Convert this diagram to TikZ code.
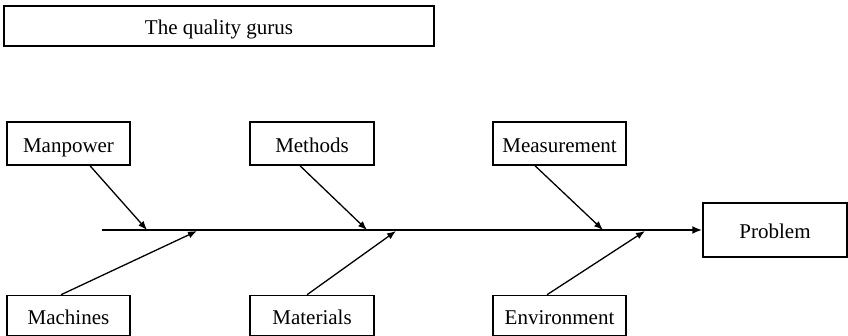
\documentclass[tikz,border=0pt]{standalone}
\usepackage{fontspec}
\setmainfont{Liberation Serif}
\usetikzlibrary{arrows.meta}
\begin{document}
\begin{tikzpicture}[x=1pt,y=-1pt,
  cause/.style={draw,line width=1.5pt,inner sep=0pt,text height=18pt,text depth=0.4pt,
    font=\fontsize{21}{23}\selectfont},
  bone/.style={line width=1.3pt,-{Latex[length=9pt,width=7pt]}},
  spine/.style={line width=2pt,-{Latex[length=10pt,width=8pt]}}]
  \useasboundingbox (0,0) rectangle (848,336);

  % heading
  \node[cause,line width=2pt,minimum width=430pt,minimum height=40pt] (title) at (219,26) {The quality gurus};

  % cause categories
  \node[cause,minimum width=123pt,minimum height=43pt] (man)  at (68.5,143.5) {Manpower};
  \node[cause,minimum width=124pt,minimum height=43pt] (meth) at (312,143.5) {Methods};
  \node[cause,minimum width=133pt,minimum height=43pt] (meas) at (559.5,143.5) {Measurement};
  \node[cause,minimum width=123pt,minimum height=40pt] (mach) at (68.5,315.5) {Machines};
  \node[cause,minimum width=124pt,minimum height=40pt] (mat)  at (312,315.5) {Materials};
  \node[cause,minimum width=133pt,minimum height=40pt] (env)  at (559.5,315.5) {Environment};

  % effect
  \node[cause,minimum width=144pt,minimum height=54pt] (prob) at (775,230) {Problem};

  % backbone
  \coordinate (tail) at (102,230);
  \draw[spine] (tail) -- (prob.west);

  % points where the bones meet the backbone
  \coordinate (p1) at (147,230);
  \coordinate (p2) at (197,231);
  \coordinate (p3) at (367,230);
  \coordinate (p4) at (396,231);
  \coordinate (p5) at (603,230);
  \coordinate (p6) at (645,231);

  % bones
  \draw[bone] ([xshift=21.5pt]man.south)  -- (p1);
  \draw[bone] ([xshift=-7.5pt]mach.north) -- (p2);
  \draw[bone] ([xshift=-12pt]meth.south)  -- (p3);
  \draw[bone] ([xshift=-5pt]mat.north)    -- (p4);
  \draw[bone] ([xshift=-24.5pt]meas.south) -- (p5);
  \draw[bone] ([xshift=-12.5pt]env.north) -- (p6);
\end{tikzpicture}
\end{document}
